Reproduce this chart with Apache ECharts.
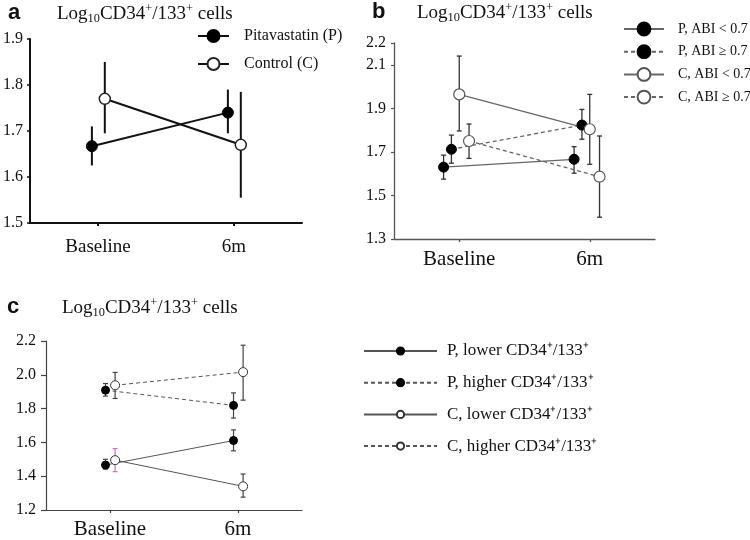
<!DOCTYPE html>
<html>
<head>
<meta charset="utf-8">
<script src="https://cdn.jsdelivr.net/npm/echarts@6/dist/echarts.min.js"></script>
<style>
  html, body { margin: 0; padding: 0; background: #fff; }
  #chart { width: 750px; height: 540px; }
</style>
</head>
<body>
<div id="chart"></div>
<script>
    // categories
    var timepoints = ['Baseline', '6m'];
    var catPos = [1, 3];

    // panel a
    var aNames = ['Pitavastatin (P)', 'Control (C)'];
    var aMean = [[1.667, 1.74], [1.77, 1.67]];
    var aLow  = [[1.625, 1.695], [1.695, 1.555]];
    var aHigh = [[1.71, 1.79], [1.85, 1.785]];
    var aShift = [-0.09, 0.1];
    var aTicks = [1.5, 1.9, 0.1];

    // panel b
    var bNames = ['P, ABI < 0.7', 'P, ABI \u2265 0.7', 'C, ABI < 0.7', 'C, ABI \u2265 0.7'];
    var bMean = [[1.63, 1.666], [1.712, 1.823], [1.964, 1.804], [1.75, 1.586]];
    var bLow  = [[1.575, 1.602], [1.648, 1.758], [1.796, 1.643], [1.67, 1.40]];
    var bHigh = [[1.685, 1.724], [1.777, 1.895], [2.14, 1.964], [1.828, 1.773]];
    var bShift = [-0.24, -0.12, 0, 0.15];
    var bTickLabels = [1.3, 1.5, 1.7, 1.9, 2.1, 2.2];

    // panel c
    var cNames = ['P, lower CD34\u207a/133\u207a', 'P, higher CD34\u207a/133\u207a', 'C, lower CD34\u207a/133\u207a', 'C, higher CD34\u207a/133\u207a'];
    var cMean = [[1.466, 1.611], [1.909, 1.819], [1.495, 1.34], [1.938, 2.016]];
    var cLow  = [[1.442, 1.55], [1.874, 1.744], [1.427, 1.276], [1.86, 1.85]];
    var cHigh = [[1.50, 1.674], [1.948, 1.893], [1.563, 1.413], [2.014, 2.175]];
    var cShift = [-0.07, -0.07, 0.08, 0.08];
    var cTicks = [1.2, 2.2, 0.2];

    var serif = '"Liberation Serif", "Times New Roman", serif';
    var sans = '"Liberation Sans", Arial, sans-serif';

    function titleRich(size) {
        return {
            m: { fontFamily: serif, fontSize: size, fontWeight: 'normal', lineHeight: 22, color: '#111' },
            sub: { fontFamily: serif, fontSize: size * 0.65, fontWeight: 'normal', lineHeight: 12, verticalAlign: 'bottom', color: '#111' },
            sup: { fontFamily: serif, fontSize: size * 0.65, fontWeight: 'normal', lineHeight: 12, verticalAlign: 'top', color: '#111' }
        };
    }
    var titleText = '{m|Log}{sub|10}{m|CD34}{sup|+}{m|/133}{sup|+}{m| cells}';

    function errorBar(cap, width) {
        return function (params, api) {
            var x = api.value(0);
            var top = api.coord([x, api.value(2)]);
            var bot = api.coord([x, api.value(1)]);
            var st = { stroke: api.visual('color'), lineWidth: width };
            var kids = [{ type: 'line', shape: { x1: top[0], y1: top[1], x2: bot[0], y2: bot[1] }, style: st }];
            if (cap) {
                kids.push({ type: 'line', shape: { x1: top[0] - cap, y1: top[1], x2: top[0] + cap, y2: top[1] }, style: st });
                kids.push({ type: 'line', shape: { x1: bot[0] - cap, y1: bot[1], x2: bot[0] + cap, y2: bot[1] }, style: st });
            }
            return { type: 'group', children: kids };
        };
    }

    function xAxisFor(idx, size, color, width, margin) {
        return {
            type: 'value', gridIndex: idx, min: 0, max: 4,
            axisLine: { show: true, lineStyle: { color: color, width: width } },
            axisTick: { show: true, customValues: catPos, length: 3, lineStyle: { color: color, width: width } },
            axisLabel: {
                customValues: catPos, margin: margin,
                fontFamily: serif, fontSize: size, color: '#111',
                formatter: function (v) { return timepoints[catPos.indexOf(v)] || ''; }
            },
            splitLine: { show: false }
        };
    }

    var series = [];
    function addPanel(idx, names, mean, low, high, shift, styles, errStyle) {
        names.forEach(function (name, i) {
            var s = styles[i];
            var pts = catPos.map(function (p, j) { return [p + shift[i], mean[i][j]]; });
            var bars = catPos.map(function (p, j) {
                var item = { value: [p + shift[i], low[i][j], high[i][j]] };
                if (errStyle.special && errStyle.special[0] === i && errStyle.special[1] === j) {
                    item.itemStyle = { color: errStyle.special[2] };
                }
                return item;
            });
            series.push({
                type: 'custom', name: name + ' err', xAxisIndex: idx, yAxisIndex: idx,
                renderItem: errorBar(errStyle.cap, errStyle.width),
                itemStyle: { color: errStyle.color },
                encode: { x: 0, y: [1, 2] },
                data: bars, z: 1, silent: true
            });
            series.push({
                type: 'line', name: name, xAxisIndex: idx, yAxisIndex: idx,
                data: pts, symbol: 'circle', symbolSize: s.size, showSymbol: true,
                lineStyle: { color: s.line, width: s.lw, type: s.dash ? [4, 3] : 'solid' },
                itemStyle: { color: s.fill, borderColor: s.border, borderWidth: s.bw },
                z: 3, animation: false
            });
        });
    }

    var filledA = { size: 11, line: '#111', lw: 2, fill: '#000', border: '#000', bw: 1 };
    var openA = { size: 11, line: '#111', lw: 2, fill: '#fff', border: '#222', bw: 1.5 };
    addPanel(0, aNames, aMean, aLow, aHigh, aShift, [filledA, openA], { cap: 0, width: 2, color: '#111' });

    var bStyles = [
        { size: 10, line: '#666', lw: 1.3, dash: false, fill: '#000', border: '#000', bw: 1 },
        { size: 10, line: '#666', lw: 1.3, dash: true, fill: '#000', border: '#000', bw: 1 },
        { size: 11, line: '#666', lw: 1.3, dash: false, fill: '#fff', border: '#555', bw: 1.2 },
        { size: 11, line: '#666', lw: 1.3, dash: true, fill: '#fff', border: '#555', bw: 1.2 }
    ];
    addPanel(1, bNames, bMean, bLow, bHigh, bShift, bStyles, { cap: 2.5, width: 1.3, color: '#333' });

    var cStyles = [
        { size: 8, line: '#555', lw: 1, dash: false, fill: '#000', border: '#000', bw: 1 },
        { size: 8, line: '#555', lw: 1, dash: true, fill: '#000', border: '#000', bw: 1 },
        { size: 9, line: '#555', lw: 1, dash: false, fill: '#fff', border: '#333', bw: 1 },
        { size: 9, line: '#555', lw: 1, dash: true, fill: '#fff', border: '#333', bw: 1 }
    ];
    addPanel(2, cNames, cMean, cLow, cHigh, cShift, cStyles, { cap: 2.5, width: 1.2, color: '#444', special: [2, 0, '#d36ad3'] });

    var chart = echarts.init(document.getElementById('chart'), null, { renderer: 'canvas' });
    chart.setOption({
        backgroundColor: '#fff',
        animation: false,
        title: [
            { text: 'a', left: 8, top: 2, padding: 0, textStyle: { fontFamily: sans, fontWeight: 'bold', fontSize: 22, color: '#111' } },
            { text: titleText, left: 57, top: 3, padding: 0, textStyle: { rich: titleRich(19) } },
            { text: 'b', left: 372, top: 1, padding: 0, textStyle: { fontFamily: sans, fontWeight: 'bold', fontSize: 22, color: '#111' } },
            { text: titleText, left: 417, top: 2, padding: 0, textStyle: { rich: titleRich(19) } },
            { text: 'c', left: 7, top: 296, padding: 0, textStyle: { fontFamily: sans, fontWeight: 'bold', fontSize: 22, color: '#111' } },
            { text: titleText, left: 62, top: 297, padding: 0, textStyle: { rich: titleRich(19) } }
        ],
        legend: [
            {
                data: aNames, left: 197, top: 28, padding: 0, orient: 'vertical', itemWidth: 31, itemHeight: 15, itemGap: 12,
                selectedMode: false,
                textStyle: { fontFamily: serif, fontSize: 16, lineHeight: 15, color: '#111', padding: [0, 0, 0, 10] }
            },
            {
                data: bNames, left: 623, top: 21, padding: 0, orient: 'vertical', itemWidth: 40, itemHeight: 16, itemGap: 6.7,
                selectedMode: false,
                textStyle: { fontFamily: serif, fontSize: 14, lineHeight: 16, color: '#111', padding: [0, 0, 0, 9] }
            },
            {
                data: cNames, left: 363, top: 341, padding: 0, orient: 'vertical', itemWidth: 73, itemHeight: 9, itemGap: 11.7,
                selectedMode: false,
                textStyle: { fontFamily: serif, fontSize: 17, lineHeight: 20, color: '#111', padding: [0, 0, 0, 5] }
            }
        ],
        grid: [
            { left: 29, top: 39, width: 273, height: 184 },
            { left: 394, top: 43, width: 261, height: 196 },
            { left: 46, top: 341, width: 256, height: 171 }
        ],
        xAxis: [
            xAxisFor(0, 19, '#111', 2, 15),
            xAxisFor(1, 21, '#555', 1.3, 10),
            xAxisFor(2, 21, '#444', 1.2, 9)
        ],
        yAxis: [
            {
                type: 'value', gridIndex: 0, min: aTicks[0], max: aTicks[1], interval: aTicks[2],
                axisLine: { show: true, lineStyle: { color: '#111', width: 2 } },
                axisTick: { show: true, length: 3, lineStyle: { color: '#111', width: 1.5 } },
                axisLabel: { margin: 7, fontFamily: serif, fontSize: 16, color: '#111', formatter: function (v) { return v.toFixed(1); } },
                splitLine: { show: false }
            },
            {
                type: 'value', gridIndex: 1, min: 1.3, max: 2.2,
                axisLine: { show: true, lineStyle: { color: '#555', width: 1.3 } },
                axisTick: { show: true, customValues: bTickLabels, length: 3, lineStyle: { color: '#555', width: 1.2 } },
                axisLabel: { customValues: bTickLabels, margin: 8, fontFamily: serif, fontSize: 16, color: '#111', formatter: function (v) { return v.toFixed(1); } },
                splitLine: { show: false }
            },
            {
                type: 'value', gridIndex: 2, min: cTicks[0], max: cTicks[1], interval: cTicks[2],
                axisLine: { show: true, lineStyle: { color: '#444', width: 1.2 } },
                axisTick: { show: true, length: 5, lineStyle: { color: '#444', width: 1.2 } },
                axisLabel: { margin: 10, fontFamily: serif, fontSize: 16, color: '#111', formatter: function (v) { return v.toFixed(1); } },
                splitLine: { show: false }
            }
        ],
        series: series
    });
</script>
</body>
</html>
